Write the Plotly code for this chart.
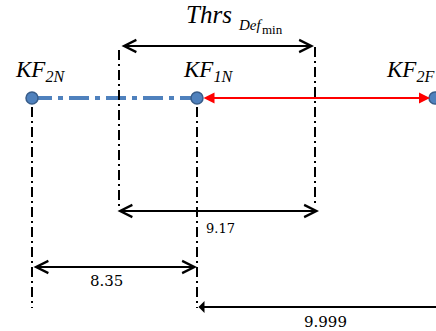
import plotly.graph_objects as go

# schematic positions (diagram units = pixels of the sketch)
node_subs = ["2N", "1N", "2F"]
node_x = [32, 197, 435]
node_y = 98

guide_x = [32, 119, 197, 315]
guide_top = [107, 50, 107, 47]
guide_bottom = [308, 210, 308, 206]

dim_labels = ["8.35", "9.17", "9.999"]
dim_from = [32, 116, 197]
dim_to = [197, 319, 445]
dim_y = [267, 211, 307]
dim_sides = ["end+start", "end+start", "start"]

thr_from, thr_to, thr_y = 120, 314, 46

blue = "#4F81BD"
serif = "Liberation Serif"
fig = go.Figure()

# blue dash-dot link KF2N -> KF1N
fig.add_trace(go.Scatter(x=node_x[:2], y=[node_y, node_y], mode="lines",
                         line=dict(color=blue, width=4, dash="20px,6px,5px,6px"),
                         hoverinfo="skip"))

# vertical guides
for gx, t, b in zip(guide_x, guide_top, guide_bottom):
    fig.add_trace(go.Scatter(x=[gx, gx], y=[t, b], mode="lines",
                             line=dict(color="black", width=2, dash="10px,4px,2px,4px"),
                             hoverinfo="skip"))

# nodes
fig.add_trace(go.Scatter(x=node_x, y=[node_y] * 3, mode="markers",
                         marker=dict(size=12, color=blue,
                                     line=dict(color="#385D8A", width=1.5)),
                         cliponaxis=False, hoverinfo="skip"))

annos = []
# red double arrow KF1N <-> KF2F
annos.append(dict(x=node_x[2] - 5, y=node_y, ax=node_x[1] + 5, ay=node_y,
                  xref="x", yref="y", axref="x", ayref="y", text="",
                  showarrow=True, arrowside="end+start", arrowhead=2,
                  arrowsize=1.1, arrowwidth=2, arrowcolor="#FF0000"))

# threshold arrow
annos.append(dict(x=thr_to, y=thr_y, ax=thr_from, ay=thr_y,
                  xref="x", yref="y", axref="x", ayref="y", text="",
                  showarrow=True, arrowside="end+start", arrowhead=5,
                  arrowsize=1.2, arrowwidth=2, arrowcolor="black"))

# dimension arrows
for a, b, y, s in zip(dim_from, dim_to, dim_y, dim_sides):
    annos.append(dict(x=b, y=y, ax=a, ay=y,
                      xref="x", yref="y", axref="x", ayref="y", text="",
                      showarrow=True, arrowside=s, arrowhead=5,
                      arrowsize=1.2, arrowwidth=2, arrowcolor="black"))

num_font = dict(family="DejaVu Serif", size=15, color="black")
annos.append(dict(x=106, y=281, text=dim_labels[0], showarrow=False,
                  xref="x", yref="y", font=num_font))
annos.append(dict(x=204, y=228, text=dim_labels[1], showarrow=False, xanchor="left",
                  xref="x", yref="y", font=dict(family="DejaVu Serif", size=13, color="black")))
annos.append(dict(x=325, y=322, text=dim_labels[2], showarrow=False,
                  xref="x", yref="y", font=num_font))

# node labels
kf_font = dict(family=serif, size=23, color="black")
for nx, sub, lx in zip(node_x, node_subs, [13, 181, 384]):
    annos.append(dict(x=lx, y=71, text="<i>KF<sub>" + sub + "</sub></i>",
                      showarrow=False, xanchor="left", xref="x", yref="y",
                      font=kf_font))

# threshold label, split so each part sits where the sketch has it
annos.append(dict(x=184, y=14, text="<i>Thrs</i>", showarrow=False,
                  xanchor="left", xref="x", yref="y",
                  font=dict(family=serif, size=25, color="black")))
annos.append(dict(x=236, y=25, text="<i>Def</i>", showarrow=False,
                  xanchor="left", xref="x", yref="y",
                  font=dict(family=serif, size=15, color="black")))
annos.append(dict(x=260, y=29, text="min", showarrow=False, xanchor="left",
                  xref="x", yref="y",
                  font=dict(family=serif, size=13, color="black")))

fig.update_layout(width=436, height=331, margin=dict(l=0, r=0, t=0, b=0),
                  paper_bgcolor="white", plot_bgcolor="white", showlegend=False,
                  annotations=annos,
                  xaxis=dict(range=[0, 436], visible=False, fixedrange=True),
                  yaxis=dict(range=[331, 0], visible=False, fixedrange=True))

fig.write_html("out.html", config={"displayModeBar": False},
               post_script="document.body.style.margin='0px';")
